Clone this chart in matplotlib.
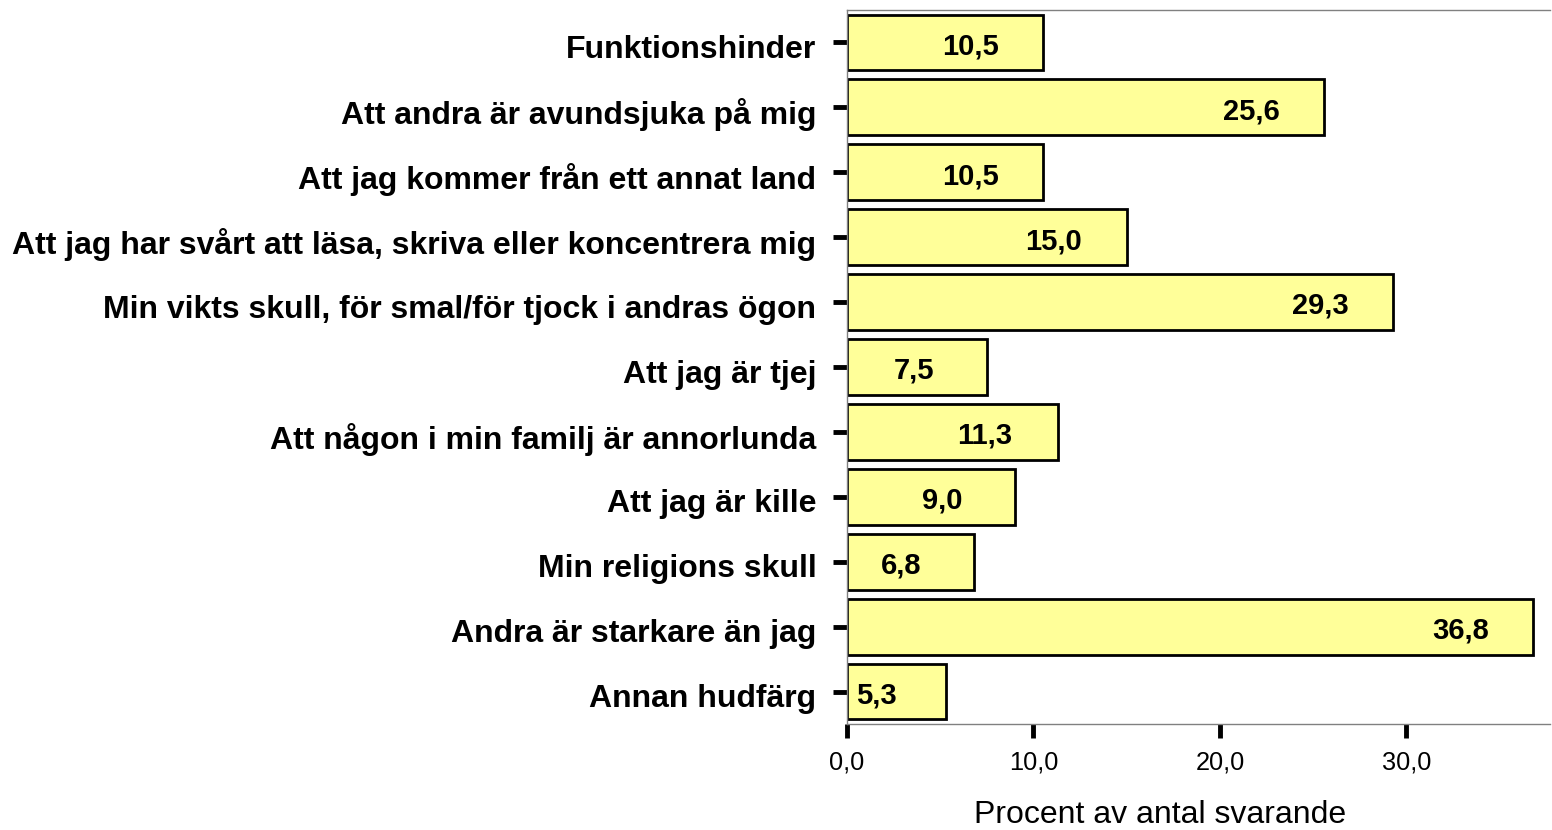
import matplotlib.pyplot as plt
import matplotlib.transforms as mtransforms

categories = [
    "Funktionshinder",
    "Att andra är avundsjuka på mig",
    "Att jag kommer från ett annat land",
    "Att jag har svårt att läsa, skriva eller koncentrera mig",
    "Min vikts skull, för smal/för tjock i andras ögon",
    "Att jag är tjej",
    "Att någon i min familj är annorlunda",
    "Att jag är kille",
    "Min religions skull",
    "Andra är starkare än jag",
    "Annan hudfärg",
]
values = [10.5, 25.6, 10.5, 15.0, 29.3, 7.5, 11.3, 9.0, 6.8, 36.8, 5.3]
xticks = [0, 10, 20, 30]

plt.rcParams['font.family'] = ['Liberation Sans', 'DejaVu Sans']

fig = plt.figure(figsize=(15.52, 8.30), dpi=100)
ax = fig.add_axes([847 / 1552, 1 - 724 / 830, 703 / 1552, 714 / 830])

pos = list(range(len(categories)))
ax.barh(pos, values, height=0.86, color='#FFFF99', edgecolor='black', linewidth=2)

# value labels inside the bars, near the end
for y, v in zip(pos, values):
    ax.text(max(v - 3.9, 1.6), y + 0.06, f"{v:.1f}".replace('.', ','),
            ha='center', va='center', fontsize=21, fontweight='bold')

ax.set_ylim(len(categories) - 0.5, -0.5)
ax.set_xlim(0, 37.7)

ax.set_yticks(pos)
ax.set_yticklabels(categories, fontsize=23, fontweight='bold')
ax.set_xticks(xticks)
ax.set_xticklabels([f"{t:.1f}".replace('.', ',') for t in xticks], fontsize=18.3)

ax.tick_params(axis='y', length=10, width=3.5, pad=12, color='black')
ax.tick_params(axis='x', length=10, width=3.5, pad=9, color='black')

# shift y labels slightly down like the original
offset = mtransforms.ScaledTranslation(0, -4 / 100, fig.dpi_scale_trans)
for lbl in ax.get_yticklabels():
    lbl.set_transform(lbl.get_transform() + offset)

for side in ['top', 'bottom', 'left']:
    ax.spines[side].set_color('#808080')
    ax.spines[side].set_linewidth(1.0)
ax.spines['right'].set_visible(False)

ax.set_xlabel("Procent av antal svarande", fontsize=23)
ax.xaxis.set_label_coords(0.445, -0.106)

fig.savefig("out.png", dpi=100)
